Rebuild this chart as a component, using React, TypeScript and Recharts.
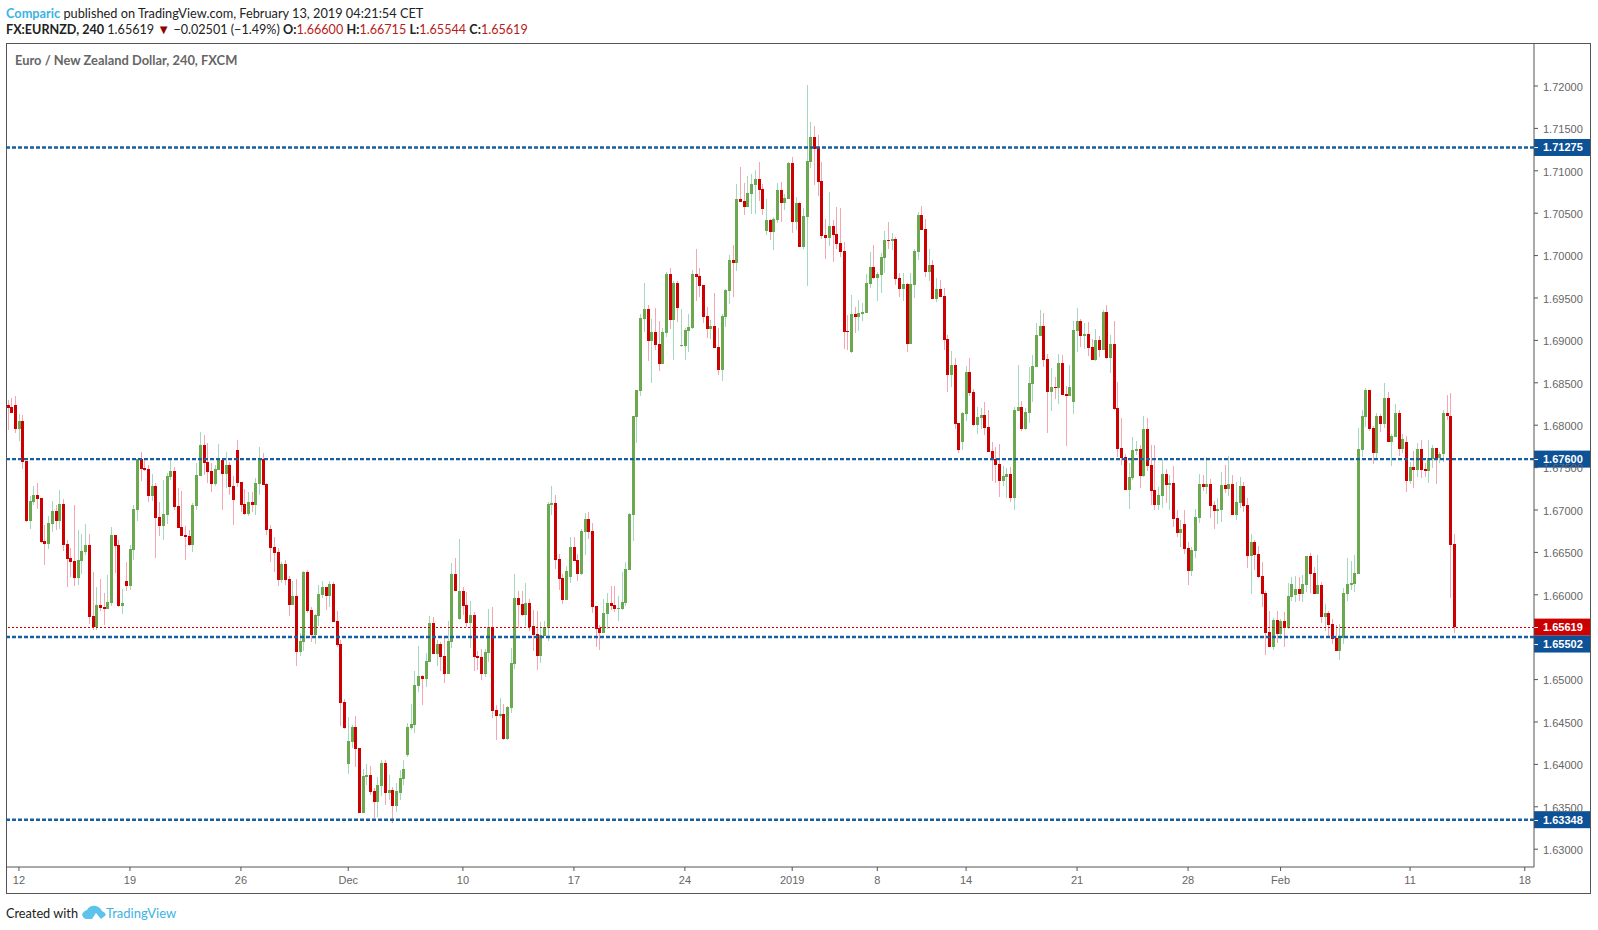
import { Bar, ComposedChart, ReferenceLine, XAxis, YAxis } from "recharts";

// every candle is [open, high, low, close]
const novCandles = [
    [1.68238,1.68297,1.67943,1.68203],[1.68215,1.68321,1.6814,1.68144],[1.68238,1.68344,1.67912,1.67955],[1.67955,1.68132,1.67814,1.68049],
    [1.68049,1.6812,1.67483,1.67566],[1.67578,1.67578,1.66858,1.6687],[1.6687,1.67165,1.66776,1.67106],[1.67094,1.67283,1.67059,1.67177],
    [1.67177,1.67318,1.67012,1.6713],[1.67141,1.67141,1.66611,1.66622],[1.66634,1.66823,1.66351,1.66599],[1.66599,1.66929,1.6654,1.66847],
    [1.66835,1.67106,1.6674,1.66988],[1.66988,1.67059,1.66764,1.6687],[1.6687,1.67236,1.66776,1.67071],[1.67071,1.6713,1.66516,1.66587],
    [1.66599,1.66646,1.66092,1.66422],[1.66434,1.66552,1.6621,1.66387],[1.66398,1.67059,1.66104,1.66198],[1.66198,1.66764,1.66115,1.6641],
    [1.66398,1.66717,1.66245,1.66516],[1.66505,1.66835,1.66469,1.66587],[1.66587,1.66717,1.65655,1.65738],[1.6575,1.66269,1.65585,1.6562],
    [1.6562,1.66092,1.65585,1.6588],[1.6588,1.66186,1.65809,1.65844],[1.65856,1.66021,1.65644,1.65832],[1.65832,1.66233,1.65832,1.65915],
    [1.65903,1.66799,1.65868,1.66705],[1.66705,1.66705,1.66257,1.66575],[1.66587,1.66646,1.65856,1.65868],[1.65868,1.66068,1.65773,1.65903],
    [1.66163,1.66387,1.66045,1.66104],[1.66104,1.66587,1.66056,1.6654],[1.66528,1.67059,1.6641,1.67012],[1.67,1.67601,1.6687,1.67601],
    [1.67601,1.67684,1.67342,1.67483],[1.67495,1.67601,1.6746,1.67472],[1.67483,1.67531,1.67094,1.67165],[1.67165,1.67424,1.67106,1.67283],
    [1.67283,1.67318,1.66434,1.66906],[1.66917,1.67094,1.66693,1.66811],[1.66811,1.67354,1.66646,1.66953],[1.66941,1.67436,1.66835,1.67401],
    [1.67389,1.67601,1.67354,1.6746],[1.6746,1.67507,1.67,1.67035],[1.67047,1.67259,1.66788,1.66788],[1.66799,1.67224,1.66693,1.66693],
    [1.66705,1.66811,1.6641,1.66681],[1.66693,1.66764,1.66575,1.66587],[1.66587,1.67082,1.66505,1.67059],[1.67047,1.67554,1.66998,1.67412],
    [1.67401,1.67919,1.67401,1.67766],[1.67766,1.67884,1.67412,1.67554],[1.67566,1.6779,1.67318,1.67448],[1.6746,1.67554,1.67212,1.67306],
    [1.67306,1.6753,1.67283,1.67483],[1.67471,1.67778,1.67471,1.67601],[1.67589,1.67613,1.66998,1.67424],[1.67424,1.67684,1.67259,1.6753],
    [1.6753,1.67566,1.67177,1.67271],[1.67283,1.67401,1.66823,1.67118],[1.67707,1.67825,1.67271,1.67318],[1.6733,1.6733,1.66976,1.67059],
    [1.6707,1.67247,1.66941,1.66952],[1.66952,1.67212,1.66929,1.67094],[1.67094,1.67212,1.66976,1.67059],[1.67059,1.67377,1.66941,1.67318],
    [1.67306,1.67743,1.67177,1.67601],[1.67601,1.67672,1.67294,1.67294],[1.67306,1.67318,1.66705,1.66764],[1.66776,1.66823,1.66386,1.66552],
    [1.66563,1.66681,1.66268,1.66493],[1.66504,1.66552,1.66103,1.66174],[1.66174,1.66386,1.66139,1.66363],[1.66363,1.6641,1.66115,1.66174],
    [1.66186,1.66221,1.6575,1.65879],[1.65879,1.66162,1.65879,1.65985],[1.65985,1.66186,1.6516,1.65325],[1.65325,1.65549,1.65278,1.65455],
    [1.65443,1.6628,1.65337,1.66268],[1.66268,1.66292,1.65785,1.65809],[1.6582,1.65856,1.65443,1.65525],[1.65525,1.65773,1.65419,1.65761],
    [1.6575,1.66115,1.65632,1.66009],[1.65997,1.66162,1.65962,1.66092],[1.66092,1.66092,1.6582,1.65985],[1.65985,1.66162,1.65856,1.66127],
    [1.66127,1.6615,1.65679,1.65679],[1.65691,1.65809,1.65384,1.65408],[1.65419,1.65467,1.64452,1.64724],[1.64735,1.64771,1.64417,1.64429],
];

const decCandles = [
    [1.64004,1.64558,1.63886,1.64275],[1.64264,1.64464,1.64193,1.6444],[1.6444,1.6457,1.63969,1.64181],[1.64193,1.64193,1.63426,1.63426],
    [1.63426,1.63945,1.63426,1.63863],[1.63851,1.64004,1.63756,1.63874],[1.63874,1.63981,1.63639,1.63674],[1.63686,1.63721,1.63368,1.63556],
    [1.63556,1.63851,1.63383,1.63756],[1.63745,1.64052,1.63627,1.64017],[1.64017,1.64052,1.63521,1.63666],[1.63663,1.63875,1.6358,1.63698],
    [1.63698,1.63733,1.63309,1.63509],[1.63509,1.63781,1.63439,1.63686],[1.63663,1.63934,1.6358,1.6384],[1.63828,1.64052,1.63757,1.63946],
    [1.64111,1.64488,1.64091,1.64441],[1.64429,1.64712,1.64406,1.64476],[1.64465,1.65102,1.6437,1.64936],[1.64925,1.65396,1.64854,1.65043],
    [1.65043,1.65054,1.64701,1.65007],[1.65007,1.65314,1.64913,1.6522],[1.65208,1.6575,1.65208,1.65668],[1.65668,1.65738,1.65302,1.65302],
    [1.65302,1.65467,1.65161,1.6542],[1.6542,1.65444,1.65102,1.65267],[1.65278,1.65491,1.6496,1.65066],[1.65066,1.65691,1.65066,1.65455],
    [1.65444,1.66375,1.65373,1.66246],[1.66246,1.66434,1.66045,1.66045],[1.65715,1.66658,1.65703,1.66045],[1.66045,1.66092,1.65762,1.65868],
    [1.6588,1.66033,1.65621,1.65668],[1.65668,1.65927,1.65373,1.65762],[1.65762,1.65797,1.65102,1.65267],[1.65278,1.65337,1.65113,1.65255],
    [1.65267,1.65361,1.64996,1.65066],[1.65066,1.65361,1.65031,1.65326],[1.65314,1.65833,1.65208,1.65621],[1.65621,1.65856,1.64547,1.6463],
    [1.64642,1.64701,1.64288,1.64571],[1.64571,1.64783,1.64547,1.64594],[1.64594,1.64712,1.64288,1.643],[1.643,1.64689,1.64288,1.64677],
    [1.64665,1.65373,1.64606,1.65196],[1.65184,1.66246,1.65125,1.65962],[1.65962,1.66045,1.65609,1.6588],[1.65892,1.66045,1.6575,1.65762],
    [1.65762,1.66139,1.65632,1.65904],[1.65904,1.65951,1.65573,1.65621],[1.65632,1.65821,1.65337,1.65526],[1.65538,1.65809,1.65113,1.65278],
    [1.65278,1.65679,1.65196,1.65526],[1.65514,1.65691,1.65514,1.65621],[1.65609,1.67095,1.65455,1.67071],[1.67059,1.67283,1.66941,1.67083],
    [1.67083,1.67177,1.66304,1.66411],[1.66422,1.66481,1.66057,1.66187],[1.66198,1.66246,1.65892,1.65939],[1.65939,1.6634,1.65939,1.66281],
    [1.6621,1.66681,1.66139,1.66564],[1.66564,1.66681,1.66398,1.66398],[1.6641,1.66481,1.66163,1.66245],[1.66245,1.66776,1.66233,1.66752],
    [1.6674,1.66965,1.66469,1.66894],[1.66894,1.66976,1.66658,1.6674],[1.66752,1.66847,1.65785,1.65856],[1.65868,1.65868,1.65384,1.65596],
    [1.65608,1.65644,1.65349,1.65549],[1.65549,1.6595,1.65549,1.65785],[1.65773,1.66021,1.65596,1.65903],[1.65903,1.66104,1.65821,1.65868],
    [1.6588,1.66104,1.65797,1.65832],[1.65832,1.65986,1.65691,1.65844],[1.65832,1.66269,1.65821,1.65915],[1.65903,1.66387,1.65868,1.66304],
    [1.66292,1.66965,1.66292,1.66953],[1.66941,1.68108,1.66634,1.68108],[1.68097,1.68415,1.6779,1.68415],[1.68403,1.69311,1.68344,1.69264],
    [1.69252,1.69677,1.69099,1.6937],[1.6937,1.69417,1.68757,1.68993],[1.68993,1.69252,1.68498,1.69099],[1.69099,1.69382,1.68887,1.68946],
    [1.68957,1.69229,1.68639,1.68722],[1.68722,1.69146,1.68722,1.69099],[1.69087,1.69807,1.6904,1.69783],[1.69783,1.69854,1.69134,1.69241],
    [1.69241,1.697,1.68769,1.69677],[1.69677,1.697,1.69217,1.69382],[1.68934,1.6937,1.68922,1.68946],[1.68934,1.69146,1.68769,1.69123],
    [1.69111,1.69311,1.68863,1.69158],[1.69146,1.6983,1.69134,1.69783],[1.69783,1.70078,1.69465,1.69748],[1.69759,1.69854,1.69512,1.69642],
    [1.69653,1.69653,1.69205,1.69276],[1.69288,1.69394,1.69028,1.69134],[1.69134,1.69241,1.69016,1.6917],[1.6917,1.69559,1.6891,1.6891],
    [1.68922,1.69146,1.68592,1.68651],[1.68651,1.69311,1.68521,1.69288],[1.69276,1.69606,1.69158,1.69594],[1.69583,1.70007,1.69429,1.69948],
    [1.69948,1.70125,1.69512,1.69913],[1.69913,1.70844,1.69819,1.70668],[1.70668,1.71045,1.70632,1.70632],[1.70644,1.70856,1.70479,1.70573],
    [1.70573,1.70939,1.70573,1.70738],[1.70727,1.70962,1.70491,1.70844],[1.70833,1.7101,1.70491,1.70903],[1.70903,1.71104,1.70644,1.70774],
    [1.70786,1.70844,1.70479,1.7055],[1.7029,1.70668,1.70243,1.7042],[1.7042,1.70432,1.70184,1.70278],[1.70278,1.70455,1.70066,1.70432],
    [1.7042,1.70856,1.70385,1.70774],[1.70774,1.70868,1.70396,1.7062],[1.7062,1.70727,1.70538,1.70679],
];

const janCandles = [
    [1.70668,1.71104,1.70668,1.71092],[1.71092,1.71163,1.70267,1.70396],[1.70396,1.70691,1.70302,1.7062],[1.7062,1.70632,1.70102,1.70102],
    [1.70102,1.70561,1.70078,1.70467],[1.70455,1.72012,1.69642,1.71116],[1.71104,1.71576,1.71033,1.71399],[1.71399,1.71528,1.70833,1.71257],
    [1.71269,1.71422,1.70703,1.70868],[1.7088,1.71104,1.70196,1.70231],[1.70243,1.70432,1.6996,1.70208],[1.70208,1.7075,1.70113,1.70349],
    [1.70349,1.7042,1.69925,1.70243],[1.70255,1.70573,1.70078,1.70137],[1.70149,1.70561,1.69984,1.70043],[1.70054,1.7016,1.68899,1.69099],
    [1.69111,1.693,1.68887,1.69099],[1.68863,1.69535,1.68848,1.69311],[1.69311,1.69394,1.69087,1.69276],[1.69276,1.69477,1.69111,1.69323],
    [1.69311,1.69441,1.69229,1.69335],[1.69323,1.69783,1.69323,1.69677],[1.69665,1.70043,1.69618,1.69866],[1.69866,1.70125,1.69724,1.69736],
    [1.69736,1.69807,1.69465,1.69783],[1.69771,1.70031,1.69559,1.69984],[1.69972,1.7029,1.69795,1.70184],[1.70184,1.70396,1.70078,1.70172],
    [1.70172,1.70267,1.70066,1.70196],[1.70196,1.7022,1.69653,1.69724],[1.69736,1.69795,1.69512,1.69606],[1.69606,1.69795,1.69465,1.69665],
    [1.69665,1.69677,1.68863,1.68958],[1.68958,1.69795,1.68958,1.69665],[1.69654,1.70078,1.695,1.70055],[1.70043,1.70514,1.69948,1.70479],
    [1.70479,1.70585,1.70302,1.70302],[1.70314,1.70432,1.69748,1.69807],[1.69807,1.70078,1.69701,1.69889],[1.69889,1.69948,1.69488,1.69488],
    [1.69488,1.69736,1.69453,1.69606],[1.69606,1.69713,1.69512,1.69512],[1.69524,1.69618,1.68887,1.69005],[1.69017,1.69064,1.68392,1.68592],
    [1.68592,1.68875,1.68451,1.6871],[1.6871,1.68793,1.67955,1.68014],[1.68026,1.68026,1.67672,1.67708],[1.67802,1.68156,1.67708,1.68144],
    [1.68132,1.68698,1.6805,1.68628],[1.68628,1.68793,1.68345,1.6838],[1.68392,1.68427,1.67991,1.68003],[1.68003,1.68215,1.67896,1.68097],
    [1.68085,1.68203,1.67955,1.6812],[1.6812,1.68274,1.67885,1.67967],[1.67979,1.68179,1.67684,1.67684],[1.67696,1.67802,1.67342,1.6759],
    [1.67602,1.67743,1.67319,1.67531],[1.67543,1.67778,1.67153,1.67342],[1.67342,1.67519,1.67283,1.67401],[1.67389,1.67495,1.67142,1.67425],
    [1.67425,1.67507,1.67094,1.67142],[1.67142,1.68215,1.67,1.68179],[1.68168,1.6871,1.68168,1.68215],[1.68215,1.68286,1.67932,1.67955],
    [1.67955,1.68203,1.67944,1.68156],[1.68144,1.68687,1.68026,1.68498],[1.68486,1.68828,1.68274,1.68698],[1.68687,1.69205,1.68687,1.69064],
    [1.69052,1.69359,1.69052,1.6917],[1.6917,1.69323,1.68687,1.68769],[1.68781,1.6884,1.67908,1.68392],[1.68392,1.68675,1.68168,1.68451],
    [1.68451,1.68569,1.68309,1.68439],[1.68439,1.6884,1.6825,1.68734],[1.68734,1.68828,1.68356,1.68356],[1.68368,1.68462,1.67755,1.68345],
    [1.68345,1.6871,1.68345,1.68451],[1.68274,1.69229,1.68132,1.69123],[1.69111,1.69382,1.68863,1.69229],[1.69228,1.69252,1.68922,1.69051],
    [1.69051,1.69205,1.68898,1.69075],[1.69075,1.69217,1.68816,1.6891],[1.68922,1.69016,1.68768,1.68768],[1.68768,1.69134,1.68757,1.69004],
    [1.69004,1.69051,1.68804,1.68886],[1.68886,1.69358,1.68886,1.69334],[1.69334,1.69417,1.6878,1.68792],[1.68792,1.69063,1.68615,1.68957],
    [1.68957,1.69228,1.68179,1.68191],[1.68202,1.68509,1.67625,1.67719],[1.67731,1.68084,1.6753,1.67613],[1.67625,1.6766,1.67235,1.67235],
    [1.67235,1.67554,1.67011,1.67389],[1.67377,1.6786,1.67353,1.67707],[1.67695,1.67813,1.67648,1.67719],[1.67719,1.67766,1.67259,1.674],
    [1.674,1.68108,1.67389,1.67955],[1.67955,1.68084,1.67459,1.67518],[1.6753,1.67766,1.67058,1.67224],[1.67235,1.67766,1.66999,1.67058],
    [1.67058,1.67271,1.66999,1.67176],[1.67165,1.67601,1.67023,1.67424],[1.67424,1.67483,1.67082,1.67294],[1.67294,1.67412,1.66999,1.67318],
    [1.67318,1.67518,1.66799,1.66893],[1.66905,1.66999,1.66681,1.66728],[1.66728,1.66882,1.66563,1.66775],[1.66834,1.66999,1.6648,1.6654],
    [1.66551,1.66622,1.66115,1.6628],[1.6628,1.66563,1.66221,1.66528],[1.66516,1.67011,1.66433,1.66917],[1.66905,1.67424,1.66846,1.67306],
    [1.67306,1.67412,1.67224,1.67271],[1.67271,1.67625,1.67188,1.67306],[1.67306,1.67365,1.66905,1.67047],[1.67058,1.67106,1.66775,1.66988],
    [1.66988,1.67141,1.66834,1.67011],[1.66999,1.67448,1.66858,1.67294],[1.67294,1.6753,1.672,1.67247],[1.67247,1.67636,1.67165,1.67306],
    [1.67306,1.67412,1.6694,1.6694],[1.6694,1.6733,1.66882,1.67094],[1.67082,1.67389,1.67023,1.67282],[1.67282,1.6733,1.66976,1.67047],
];

const febCandles = [
    [1.67058,1.67141,1.66315,1.66457],[1.66457,1.66716,1.66009,1.66622],[1.66622,1.66646,1.66292,1.66469],[1.6648,1.66575,1.66198,1.66209],
    [1.66222,1.66387,1.65856,1.66009],[1.66021,1.66045,1.6529,1.65549],[1.65561,1.65809,1.65384,1.65384],[1.65384,1.65726,1.65349,1.65703],
    [1.65703,1.65809,1.65431,1.65538],[1.65538,1.65715,1.65479,1.65691],[1.65691,1.65797,1.65384,1.65608],[1.65608,1.66139,1.65597,1.65986],
    [1.65974,1.6621,1.65927,1.66127],[1.65998,1.66222,1.65915,1.66068],[1.66068,1.6621,1.65927,1.66009],[1.66009,1.66233,1.65915,1.66127],
    [1.66115,1.66458,1.66033,1.66458],[1.66458,1.66493,1.66021,1.66245],[1.66257,1.66328,1.66009,1.66009],[1.66009,1.66469,1.66009,1.66115],
    [1.66115,1.66151,1.65667,1.65738],[1.65738,1.65891,1.65573,1.65785],[1.65785,1.65809,1.65514,1.65644],[1.65655,1.65715,1.6542,1.65479],
    [1.6549,1.65644,1.65337,1.65337],[1.65337,1.65655,1.65231,1.65514],[1.6549,1.6608,1.6542,1.66021],[1.66009,1.66434,1.65927,1.66127],
    [1.66115,1.66398,1.66057,1.66139],[1.66127,1.66469,1.66033,1.66257],[1.66245,1.67967,1.66245,1.67719],[1.67708,1.68179,1.67625,1.68108],
    [1.68097,1.68439,1.67979,1.68415],[1.68415,1.68415,1.67932,1.67955],[1.67967,1.67991,1.67542,1.67672],[1.67672,1.68144,1.67601,1.68108],
    [1.68108,1.68132,1.6792,1.68014],[1.68014,1.68498,1.67967,1.68321],[1.68321,1.68392,1.67802,1.67802],[1.67802,1.67896,1.67519,1.67873],
    [1.67861,1.6825,1.67861,1.68144],[1.68144,1.68179,1.67637,1.67719],[1.67719,1.67896,1.67672,1.67837],[1.67802,1.67873,1.67212,1.67342],
    [1.67342,1.67566,1.67307,1.67507],[1.67507,1.67696,1.67259,1.67472],[1.67472,1.6779,1.67389,1.67719],[1.67719,1.67826,1.67377,1.67472],
    [1.67483,1.67554,1.67389,1.6746],[1.6746,1.67826,1.67318,1.67613],[1.67601,1.67767,1.67495,1.67731],[1.67731,1.67731,1.67307,1.67613],
    [1.67613,1.67684,1.67554,1.6766],[1.6766,1.68179,1.67566,1.68144],[1.68144,1.68356,1.68061,1.68108],[1.68108,1.6838,1.65962,1.66587],
    [1.666,1.66715,1.65544,1.65619],
];

const candles = [...novCandles, ...decCandles, ...janCandles, ...febCandles];

// the time axis carries on past the last candle
const slotCount = 413;
const timeTicks = [3, 33, 63, 92, 123, 153, 183, 212, 235, 259, 289, 319, 344, 379, 410];
const timeLabels = ["12", "19", "26", "Dec", "10", "17", "24", "2019", "8", "14", "21", "28", "Feb", "11", "18"];
// 1.655 sits fully behind the price tags in the reference
const priceTicks = [1.63, 1.635, 1.64, 1.645, 1.65, 1.66, 1.665, 1.67, 1.675, 1.68, 1.685, 1.69, 1.695, 1.7, 1.705, 1.71, 1.715, 1.72];
const levelLines = [1.71275, 1.676, 1.65502, 1.63348];
const lastPrice = 1.65619;

const rows = Array.from({ length: slotCount }, (_, slot) => {
    const c = candles[slot];
    return c
        ? { slot, range: [c[2], c[1]], open: c[0], close: c[3] }
        : { slot, range: null, open: null, close: null };
});

const Candle = (props: any) => {
    const { x, y, width, height, payload } = props;
    if (payload.open === null || !payload.range) return null;
    const [low, high] = payload.range;
    const perUnit = high > low ? height / (high - low) : 0;
    const up = payload.close >= payload.open;
    const top = y + (high - Math.max(payload.open, payload.close)) * perUnit;
    const bodyHeight = Math.max(1, Math.abs(payload.close - payload.open) * perUnit);
    const left = Math.round(x + width / 2 - 1.5);
    return (
        <g shapeRendering="crispEdges">
            <rect x={left + 1} y={y} width={1} height={Math.max(height, 1)} fill={up ? "#a5d9bf" : "#f5a6b0"} />
            <rect x={left} y={top} width={3} height={bodyHeight} fill={up ? "#6ba84f" : "#cc0000"} />
        </g>
    );
};

const PriceTag = ({ viewBox, value, fill, shift = 0 }: any) => {
    const cy = viewBox.y + shift;
    const left = viewBox.x + viewBox.width;
    return (
        <g>
            <rect x={left} y={cy - 8.5} width={56} height={17} fill={fill} />
            <rect x={left} y={Math.round(cy)} width={4} height={1} fill="#ffffff" />
            <text x={left + 9} y={cy + 4} fontSize={11} fontWeight={700} fill="#ffffff" fontFamily="Liberation Sans">
                {value.toFixed(5)}
            </text>
        </g>
    );
};

const App = () => {
    return (
        <div style={{ position: "absolute", left: 0, top: 0, width: 1598, height: 930, background: "#fff", overflow: "hidden" }}>
            <div style={{ position: "absolute", left: 6, top: 4, fontFamily: "Lato", fontSize: 12.75, lineHeight: "18px", color: "#222", whiteSpace: "nowrap" }}>
                <span style={{ color: "#3bb3e4", fontWeight: 700 }}>Comparic</span> published on TradingView.com, February 13, 2019 04:21:54 CET
            </div>
            <div style={{ position: "absolute", left: 6, top: 20, fontFamily: "Lato", fontSize: 12.6, lineHeight: "18px", color: "#222", whiteSpace: "nowrap" }}>
                <b>FX:EURNZD, 240</b> 1.65619 <span style={{ color: "#8b0000", fontSize: 13 }}>▼</span> −0.02501 (−1.49%) <b>O:</b>
                <span style={{ color: "#b71c1c" }}>1.66600</span> <b>H:</b>
                <span style={{ color: "#b71c1c" }}>1.66715</span> <b>L:</b>
                <span style={{ color: "#b71c1c" }}>1.65544</span> <b>C:</b>
                <span style={{ color: "#b71c1c" }}>1.65619</span>
            </div>
            <div style={{ position: "absolute", left: 6, top: 43, width: 1585, height: 851, border: "1px solid #555", boxSizing: "border-box" }} />
            <div style={{ position: "absolute", left: 15, top: 52, fontFamily: "Lato", fontSize: 12.9, lineHeight: "17px", fontWeight: 700, color: "#666", whiteSpace: "nowrap" }}>
                Euro / New Zealand Dollar, 240, FXCM
            </div>
            <div style={{ position: "absolute", left: 0, top: 0 }}>
                <ComposedChart
                    width={1598}
                    height={930}
                    data={rows}
                    barCategoryGap={0}
                    margin={{ top: 43, right: 6, bottom: 36, left: 6 }}
                >
                    <XAxis
                        dataKey="slot"
                        height={27}
                        ticks={timeTicks}
                        interval={0}
                        tickFormatter={(v: number) => timeLabels[timeTicks.indexOf(v)]}
                        tick={{ fontSize: 11, fill: "#666", fontFamily: "Liberation Sans" }}
                        tickSize={4}
                        tickMargin={5}
                        stroke="#555"
                    />
                    <YAxis
                        orientation="right"
                        width={58}
                        type="number"
                        domain={[1.6279, 1.72507]}
                        allowDataOverflow
                        ticks={priceTicks}
                        interval={0}
                        tickFormatter={(v: number) => v.toFixed(5)}
                        tick={{ fontSize: 11, fill: "#666", fontFamily: "Liberation Sans", textAnchor: "start", dy: 1 }}
                        tickSize={4}
                        tickMargin={5}
                        stroke="#555"
                    />
                    <Bar dataKey="range" shape={<Candle />} isAnimationActive={false} />
                    <ReferenceLine
                        y={lastPrice}
                        stroke="#cc0000"
                        strokeWidth={1}
                        strokeDasharray="2 2"
                        shapeRendering="crispEdges"
                        label={(p: any) => <PriceTag {...p} value={lastPrice} fill="#cc0000" />}
                    />
                    {levelLines.map((level) => (
                        <ReferenceLine
                            key={level}
                            y={level}
                            stroke="#175f9f"
                            strokeWidth={2.4}
                            strokeDasharray="4 2"
                            label={(p: any) => (
                                <PriceTag {...p} value={level} fill="#0d5197" shift={level === 1.65502 ? 7 : 0} />
                            )}
                        />
                    ))}
                </ComposedChart>
            </div>
            <div style={{ position: "absolute", left: 6, top: 904, fontFamily: "Lato", fontSize: 12.75, lineHeight: "18px", color: "#222", whiteSpace: "nowrap" }}>
                Created with
            </div>
            <svg style={{ position: "absolute", left: 82, top: 905 }} width={24} height={15} viewBox="0 0 24 15">
                <path d="M0 10 Q1 6 5 5 Q8 0 14 1 Q18 2 20 6 Q23 7 24 10 L19 14 L14 8 L10 14 L4 14 Q1 13 0 10 Z" fill="#5cc4ea" />
            </svg>
            <div style={{ position: "absolute", left: 106, top: 904, fontFamily: "Lato", fontSize: 13, lineHeight: "18px", color: "#3bb3e4", whiteSpace: "nowrap" }}>
                TradingView
            </div>
        </div>
    );
};

export default App;
